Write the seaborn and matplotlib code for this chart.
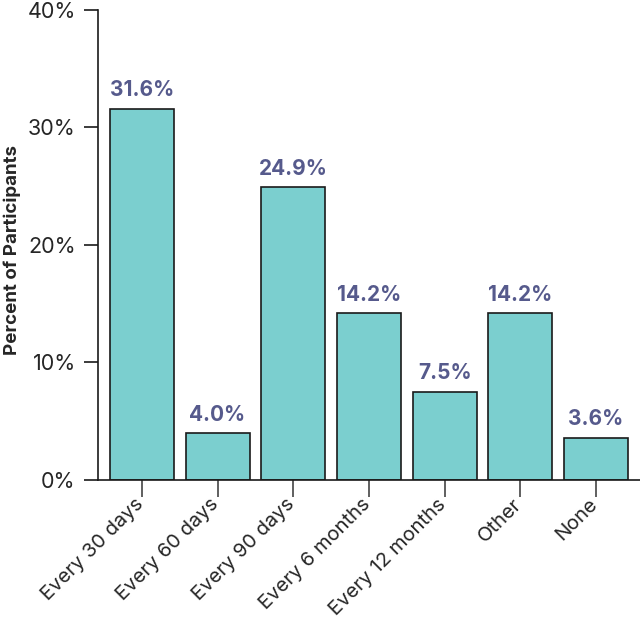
import pandas as pd
import seaborn as sns
import matplotlib.pyplot as plt
from matplotlib.ticker import PercentFormatter
from matplotlib.transforms import ScaledTranslation

categories = ["Every 30 days", "Every 60 days", "Every 90 days", "Every 6 months",
              "Every 12 months", "Other", "None"]
percents = [31.6, 4.0, 24.9, 14.2, 7.5, 14.2, 3.6]

df = pd.DataFrame({"frequency": categories, "percent": percents})

sns.set_style("ticks")
plt.rcParams['font.family'] = ['Inter', 'DejaVu Sans']

fig = plt.figure(figsize=(6.4, 6.2), dpi=100)
ax = fig.add_axes([0.153, 0.226, 0.847, 0.758])

sns.barplot(data=df, x="frequency", y="percent", color="#7bcfcf", saturation=1,
            edgecolor="#1a1a1a", linewidth=1.2, width=0.845, ax=ax)

# Value labels above each bar
for container in ax.containers:
    ax.bar_label(container, fmt="%.1f%%", padding=6, color="#565a8c",
                 fontsize=15, fontweight="bold")

ax.set_ylim(0, 40)
ax.set_xlim(-0.58, 6.58)
ax.set_yticks([0, 10, 20, 30, 40])
ax.yaxis.set_major_formatter(PercentFormatter(decimals=0))
ax.set_xlabel("")
ax.set_ylabel("Percent of Participants", fontsize=13.5, fontweight="bold")
ax.yaxis.set_label_coords(-0.142, 0.49)

ax.tick_params(axis="y", labelsize=15.5, length=10, width=1.2, color="#1a1a1a", pad=6)
ax.tick_params(axis="x", labelsize=14.5, length=12, width=1.2, color="#444444", pad=0)
# nudge rotated labels so their top-right corner sits at the tick end
shift = ScaledTranslation(5 / 100, 1 / 100, fig.dpi_scale_trans)
for lbl in ax.get_xticklabels():
    lbl.set_rotation(45)
    lbl.set_ha("right")
    lbl.set_transform(lbl.get_transform() + shift)

for side in ["top", "right"]:
    ax.spines[side].set_visible(False)
for side in ["left", "bottom"]:
    ax.spines[side].set_linewidth(1.2)
    ax.spines[side].set_color("#1a1a1a")

fig.savefig("out.png", dpi=100)
